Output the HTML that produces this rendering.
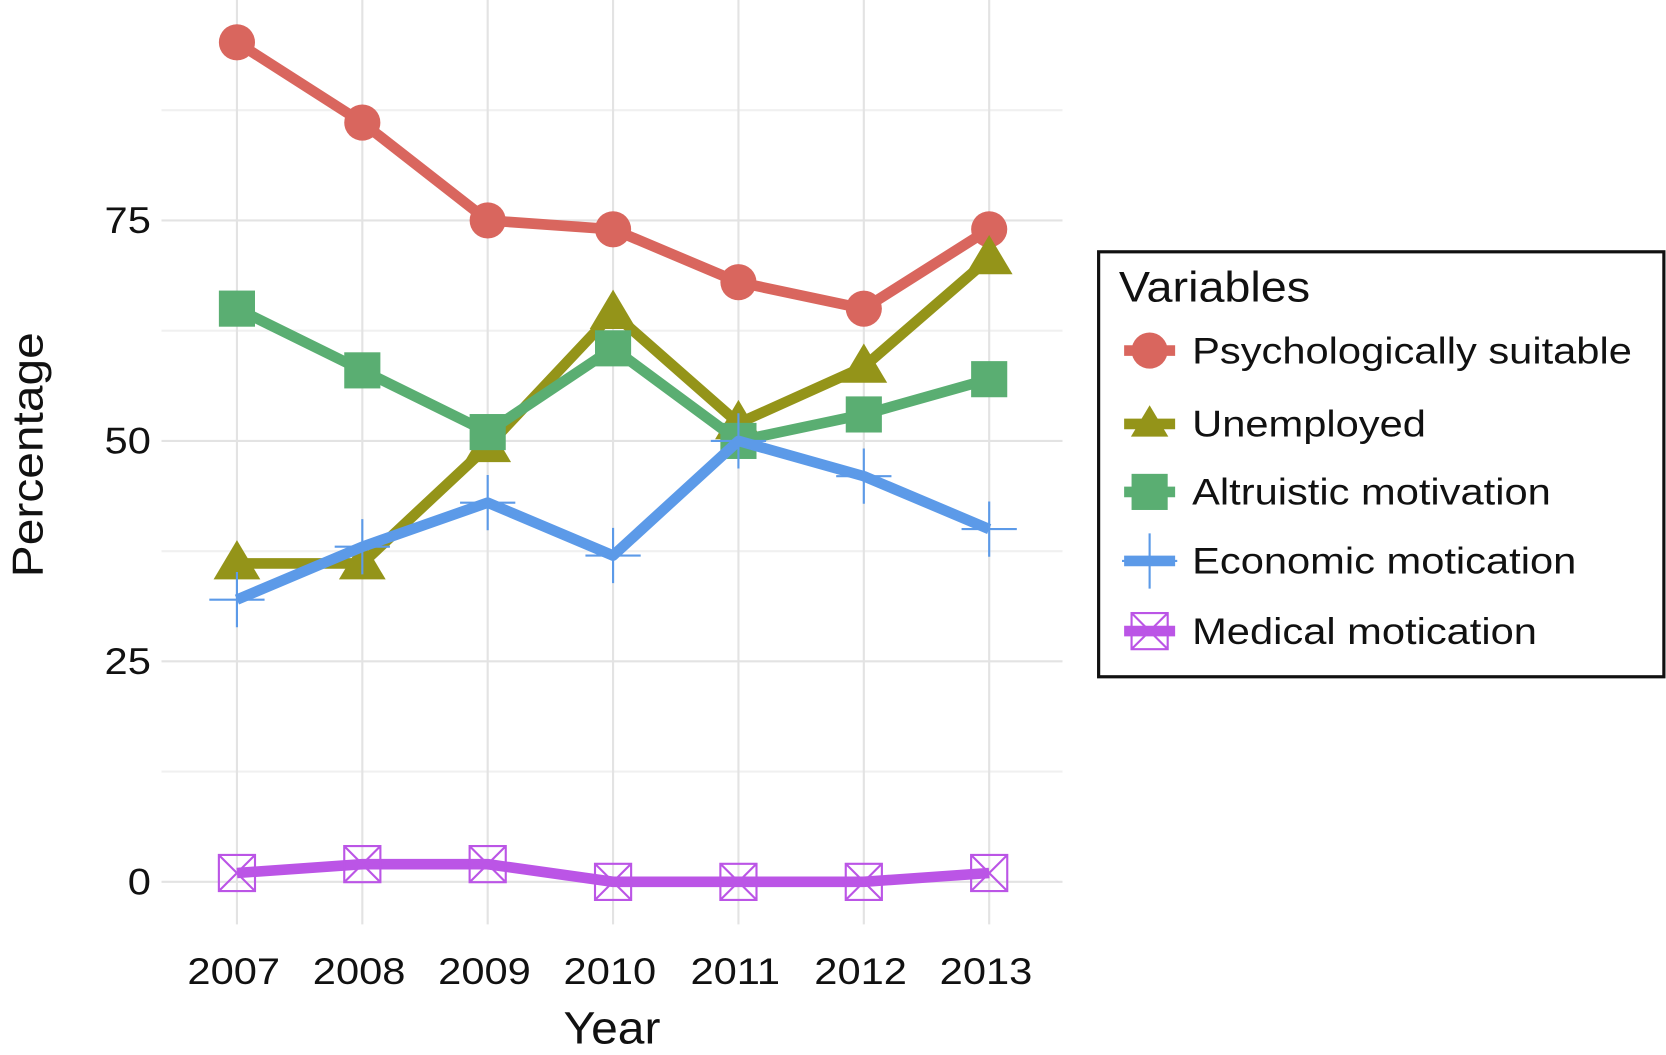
<!DOCTYPE html>
<html><head><meta charset="utf-8"><style>
html,body{margin:0;padding:0;background:#fff}
svg{display:block;font-family:"Liberation Sans",sans-serif}
</style></head><body>
<svg id="chart" width="1666" height="1055" viewBox="0 0 1568 993" preserveAspectRatio="none">
<g id="grid"></g>
<g id="axes"></g>
<g id="series"></g>
<g id="legend"></g>
</svg>
<script>
const years = ["2007","2008","2009","2010","2011","2012","2013"];
const yTicks = [0,25,50,75];
const psych = [95.2,86.1,75,74,68,65,74];
const unemployed = [36.1,36.1,49.4,64.5,52,58.4,70.7];
const altruistic = [65,58,51,60.5,50,53,57];
const economic = [32,38,43,37,50,46,40];
const medical = [1,2,2,0,0,0,1];
const seriesNames = ["Psychologically suitable","Unemployed","Altruistic motivation","Economic motication","Medical motication"];

const NS="http://www.w3.org/2000/svg";
function xS(i){return 223+i*118;}
function yS(v){return 830-v*8.3;}
function mk(tag,attrs,parent){const e=document.createElementNS(NS,tag);for(const k in attrs)e.setAttribute(k,attrs[k]);parent.appendChild(e);return e;}
function txt(parent,x,y,size,anchor,str,sx,rot){
 const tf=`translate(${x} ${y})`+(rot?` rotate(${rot})`:'')+` scale(${sx} 1)`;
 const t=mk('text',{x:0,y:0,'font-size':size,fill:'#111','text-anchor':anchor,transform:tf},parent);
 t.textContent=str;return t;}
const grid=document.getElementById('grid'),axes=document.getElementById('axes'),ser=document.getElementById('series'),leg=document.getElementById('legend');
for(let v=-12.5;v<=100;v+=12.5){const y=yS(v);if(y<0||y>880)continue;
 const l=mk('line',{x1:152,x2:1000,y1:y,y2:y,stroke:yTicks.includes(v)?'#e3e3e3':'#f0f0f0','stroke-width':2},grid);
 
 }
years.forEach((yr,i)=>{const l=mk('line',{x1:xS(i),x2:xS(i),y1:0,y2:870,stroke:'#e3e3e3','stroke-width':2},grid);
 
 
 const t=txt(axes,xS(i)-3,926,35,'middle',yr,1.12,0);
 
 });
yTicks.forEach(v=>{const t=txt(axes,142,yS(v)+12,35,'end',String(v),1.12,0);
 
 });
let t=txt(axes,576,982,43,'middle','Year',1.05,0);


t=txt(axes,40,428,41,'middle','Percentage',1.1,-90);



const colors=['#d9665e','#949419','#5aae72','#5c9ae8','#bb55e6'];
const data=[psych,unemployed,altruistic,economic,medical];
function marker(k,x,y,g,s){
 const c=colors[k];s=s||1;let e;
 if(k===0)e=mk('circle',{cx:x,cy:y,r:17*s,fill:c},g);
 else if(k===1)e=mk('polygon',{points:`${x},${y-22*s} ${x+22*s},${y+15*s} ${x-22*s},${y+15*s}`,fill:c},g);
 else if(k===2)e=mk('rect',{x:x-17*s,y:y-17*s,width:34*s,height:34*s,fill:c},g);
 else if(k===3)e=mk('path',{d:`M${x-26*s},${y}H${x+26*s}M${x},${y-26*s}V${y+26*s}`,stroke:c,'stroke-width':2,fill:'none'},g);
 else e=mk('path',{d:`M${x-17*s},${y-17*s}h${34*s}v${34*s}h${-34*s}zM${x-17*s},${y-17*s}L${x+17*s},${y+17*s}M${x+17*s},${y-17*s}L${x-17*s},${y+17*s}`,stroke:c,'stroke-width':2,fill:'none'},g);
 return e;}
data.forEach((arr,k)=>{
 const g=mk('g',{},ser);
 
 
 const p=mk('polyline',{points:arr.map((v,i)=>xS(i)+','+yS(v)).join(' '),fill:'none',stroke:colors[k],'stroke-width':10,'stroke-linejoin':'round'},g);
 
 
 arr.forEach((v,i)=>{const m=marker(k,xS(i),yS(v),g);
  
  });
});
const box=mk('rect',{x:1034,y:237,width:532,height:400,fill:'#fff',stroke:'#111','stroke-width':3},leg);


t=txt(leg,1053,284,40,'start','Variables',1.1,0);


const ly=[330,399,463,528,594];
seriesNames.forEach((n,k)=>{const g=mk('g',{},leg);
 
 
 mk('line',{x1:1058,x2:1106,y1:ly[k],y2:ly[k],stroke:colors[k],'stroke-width':10},g);
 marker(k,1082,ly[k],g,k===1?0.8:1);
 txt(g,1122,ly[k]+12,35,'start',n,1.12,0);});
</script>
</body></html>
